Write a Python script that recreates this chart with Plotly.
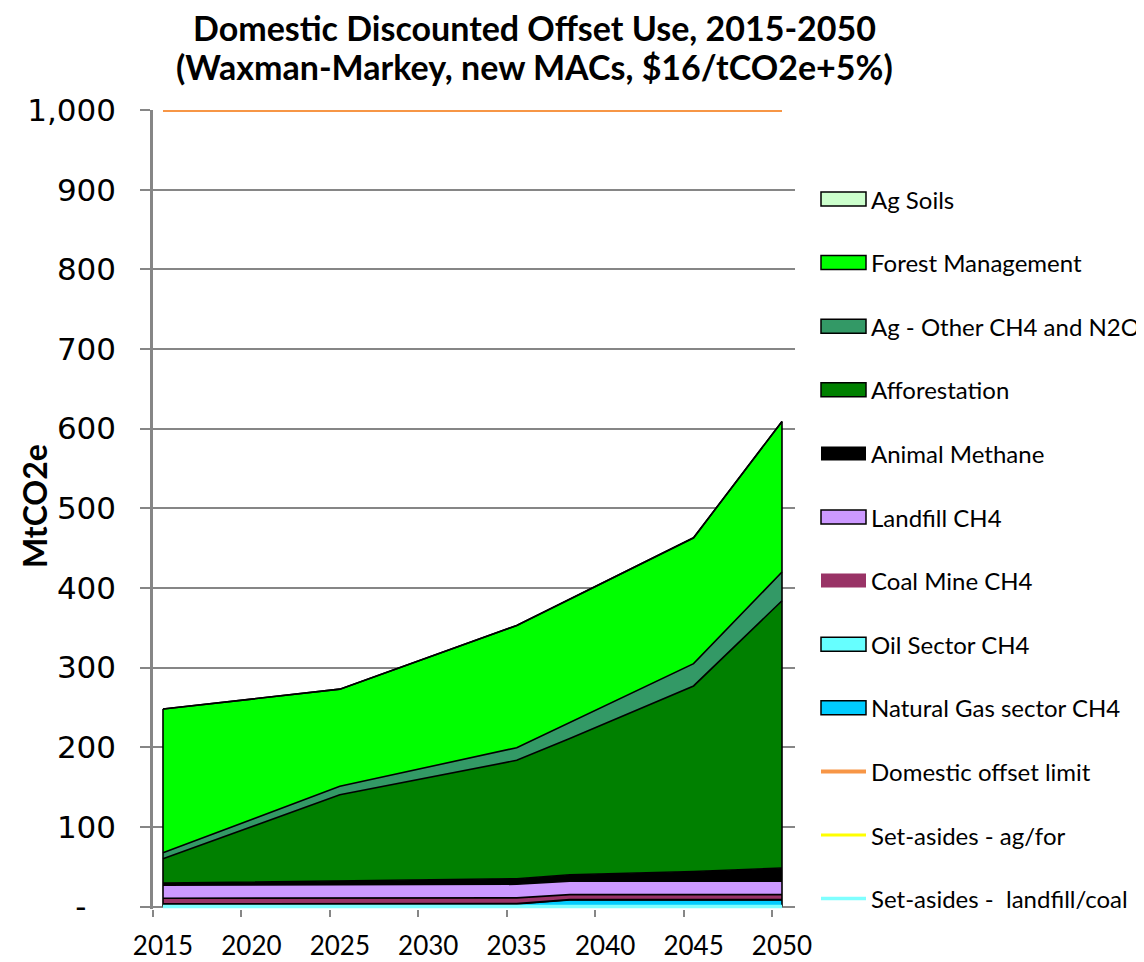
import numpy as np
import plotly.graph_objects as go

# ---- data (MtCO2e) ----
years = [2015, 2025, 2035, 2038, 2045, 2050]

natural_gas = [3.0, 3.0, 3.3, 8.3, 8.3, 8.3]
oil_sector = [0.5, 0.5, 0.5, 0.5, 0.5, 0.5]
coal_mine = [7.0, 7.5, 7.2, 6.2, 6.2, 6.2]
landfill = [16.5, 16.5, 17.0, 16.8, 16.8, 16.8]
animal_methane = [2.5, 4.5, 7.0, 8.2, 12.2, 16.7]
afforestation = [30.5, 108.5, 148.6, 171.0, 233.0, 335.5]
ag_other = [7.5, 10.5, 15.9, 20.0, 28.0, 36.0]
forest_mgmt = [180.5, 122.0, 153.5, 155.0, 158.0, 189.0]
ag_soils = [0, 0, 0, 0, 0, 0]

offset_limit = [1000, 1000, 1000, 1000, 1000, 1000]
setaside_agfor = [0, 0, 0, 0, 0, 0]
setaside_landfill = [0, 0, 0, 0, 0, 0]

y_tickvals = [0, 100, 200, 300, 400, 500, 600, 700, 800, 900, 1000]
y_ticktext = ["-\u00a0\u00a0\u00a0", "100", "200", "300", "400", "500", "600",
              "700", "800", "900", "1,000"]
x_tickvals = [2015, 2020, 2025, 2030, 2035, 2040, 2045, 2050]

title_lines = ["Domestic Discounted Offset Use, 2015-2050",
               "(Waxman-Markey, new MACs, $16/tCO2e+5%)"]

# ---- layout geometry (figure pixels) ----
OFF = 8  # page body margin
W, H = 1144 - OFF, 962 - OFF
ML, MT = 145, 102
PW, PH = 642, 799
MR, MB = W - ML - PW, H - MT - PH


def px_to_paper(px, py):
    fx, fy = px - OFF, py - OFF
    return (fx - ML) / PW, (MT + PH - fy) / PH


fig = go.Figure()

stack = [
    ("Natural Gas sector CH4", natural_gas, "#00CCFF", True),
    ("Oil Sector CH4", oil_sector, "#66FFFF", True),
    ("Coal Mine CH4", coal_mine, "#993366", False),
    ("Landfill CH4", landfill, "#CC99FF", True),
    ("Animal Methane", animal_methane, "#000000", False),
    ("Afforestation", afforestation, "#008000", True),
    ("Ag - Other CH4 and N2O", ag_other, "#339966", True),
    ("Forest Management", forest_mgmt, "#00FF00", True),
    ("Ag Soils", ag_soils, "#CCFFCC", True),
]

for name, vals, fc, border in stack:
    fig.add_trace(go.Scatter(
        x=years, y=vals, name=name, mode="lines",
        stackgroup="one", fillcolor=fc,
        line=dict(color="black", width=1.6),
    ))

# vertical outline edges at first and last year (from stacked totals)
totals = np.sum([s[1] for s in stack], axis=0)
for i in (0, -1):
    fig.add_trace(go.Scatter(
        x=[years[i], years[i]], y=[0, totals[i]], mode="lines",
        line=dict(color="black", width=1.6), hoverinfo="skip",
    ))

lines = [
    ("Domestic offset limit", offset_limit, "#F79646", 4),
    ("Set-asides - ag/for", setaside_agfor, "#FFFF00", 3),
    ("Set-asides -\u00a0 landfill/coal", setaside_landfill, "#7FFFFF", 3.5),
]
for name, vals, col, w in lines:
    fig.add_trace(go.Scatter(
        x=years, y=vals, name=name, mode="lines",
        line=dict(color=col, width=w),
    ))

# ---- legend (drawn as swatches + labels at the right) ----
legend_items = [(n, "rect", c, b) for n, _, c, b in reversed(stack)] + \
               [(n, "line", c, w) for n, _, c, w in lines]
shapes, annotations = [], []
for i, (name, kind, col, extra) in enumerate(legend_items):
    cy = 199 + 63.6 * i
    x0, y0 = px_to_paper(821, cy - 7)
    x1, y1 = px_to_paper(866, cy + 7)
    if kind == "rect":
        shapes.append(dict(
            type="rect", xref="paper", yref="paper",
            x0=x0, x1=x1, y0=y0, y1=y1, fillcolor=col,
            line=dict(color="black", width=1.5 if extra else 0),
        ))
    else:
        _, ym = px_to_paper(0, cy)
        shapes.append(dict(
            type="line", xref="paper", yref="paper",
            x0=x0, x1=x1, y0=ym, y1=ym,
            line=dict(color=col, width=extra),
        ))
    tx, ty = px_to_paper(869, cy)
    annotations.append(dict(
        text=name, x=tx, y=ty, xref="paper", yref="paper",
        xanchor="left", yanchor="middle", showarrow=False,
        font=dict(family="Lato", size=24, color="black"),
    ))

ax, ay = px_to_paper(35, 506)
annotations.append(dict(
    text="<b>MtCO2e</b>", textangle=-90,
    x=ax, xref="paper", xanchor="center",
    y=ay, yref="paper", yanchor="middle",
    showarrow=False, font=dict(family="Lato", size=32, color="black"),
))

# title lines (centred on the same axis)
for (txt, cy) in [(title_lines[0], 27), (title_lines[1], 67)]:
    tx, ty = px_to_paper(534, cy)
    annotations.append(dict(
        text="<b>" + txt + "</b>", x=tx, y=ty, xref="paper", yref="paper",
        xanchor="center", yanchor="middle", showarrow=False, borderpad=0,
        font=dict(family="Lato", size=34, color="black"),
    ))

grid_col = "#868686"

fig.update_layout(
    width=W, height=H,
    margin=dict(l=ML, r=MR, t=MT, b=MB, autoexpand=False),
    paper_bgcolor="white", plot_bgcolor="white",
    font=dict(family="Lato", color="black"),
    showlegend=False,
    shapes=shapes,
    annotations=annotations,
    xaxis=dict(
        range=[2014.435, 2050.735],
        tickmode="array", tickvals=x_tickvals,
        ticktext=[str(v) for v in x_tickvals],
        ticks="", showgrid=False, zeroline=False,
        showline=False,
        tickfont=dict(family="Lato", size=26, color="black"),
        ticklabelstandoff=19,
        minor=dict(tick0=2014.435, dtick=5, ticks="outside", ticklen=7,
                   tickcolor=grid_col, tickwidth=2, showgrid=False),
    ),
    yaxis=dict(
        range=[-3, 1000],
        tickmode="array", tickvals=y_tickvals, ticktext=y_ticktext,
        ticks="outside", ticklen=10, tickcolor=grid_col, tickwidth=2,
        showgrid=True, gridcolor=grid_col, gridwidth=1.5,
        zeroline=True, zerolinecolor=grid_col, zerolinewidth=1.5,
        showline=True, linecolor=grid_col, linewidth=2.5,
        tickfont=dict(family="DejaVu Sans", size=31, color="black"),
        ticklabelstandoff=18,
    ),
)

fig.write_html("out.html")
